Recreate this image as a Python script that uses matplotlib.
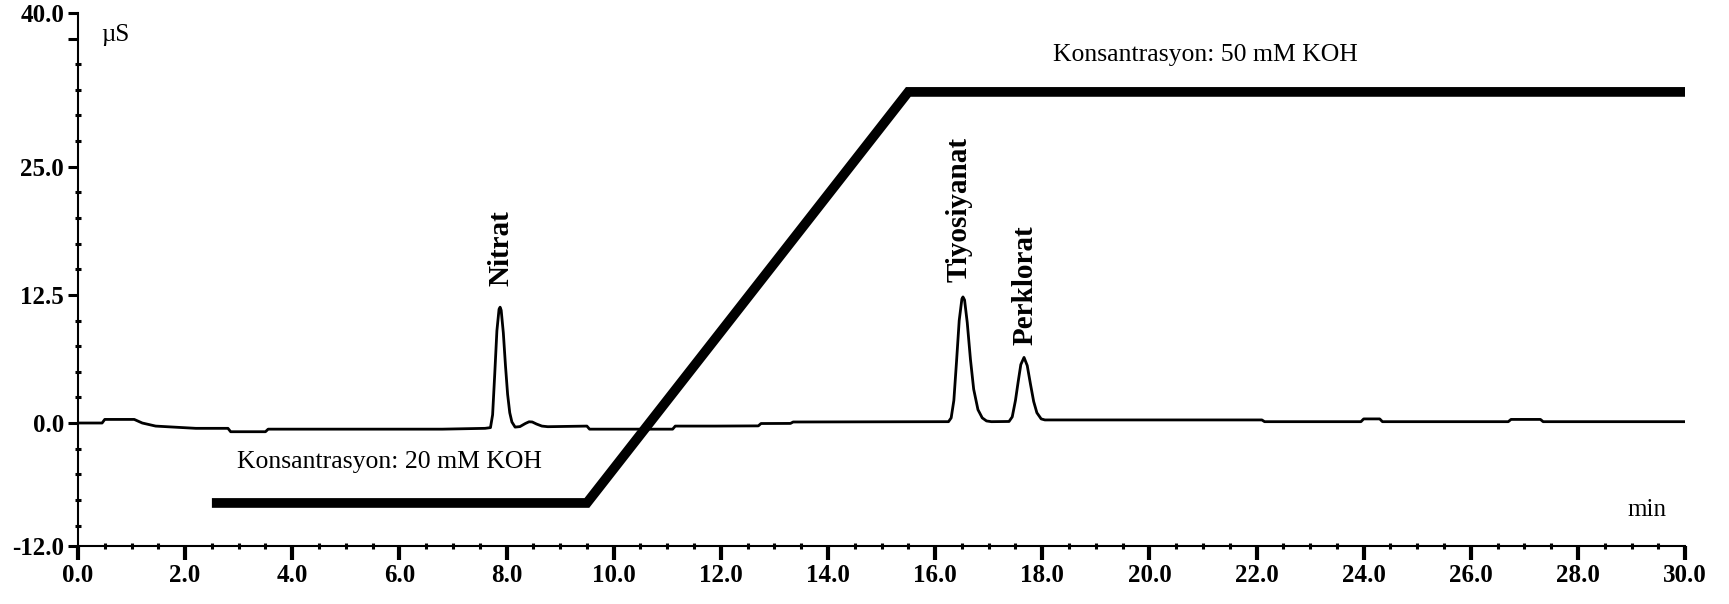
import matplotlib
matplotlib.use("Agg")
import matplotlib.pyplot as plt
from matplotlib.ticker import FixedLocator, FixedFormatter, MultipleLocator

plt.rcParams['font.family'] = ['Liberation Serif', 'DejaVu Serif']

# chromatogram (time in min, conductivity in uS)
time_min = [0.0, 0.45, 0.5, 1.05, 1.2, 1.45, 2.2, 2.8, 2.85, 3.5, 3.55, 6.8, 7.6,
            7.70, 7.74, 7.78, 7.82, 7.86, 7.88, 7.90, 7.94, 7.98, 8.02, 8.06, 8.10,
            8.16, 8.25, 8.35, 8.42, 8.48, 8.56, 8.66, 8.77, 9.5, 9.55, 11.1, 11.15,
            11.9, 12.7, 12.75, 13.3, 13.35, 16.2,
            16.25, 16.30, 16.35, 16.40, 16.45, 16.50, 16.52, 16.55, 16.60, 16.66,
            16.72, 16.80, 16.88, 16.96, 17.05,
            17.38, 17.44, 17.50, 17.55, 17.60, 17.66, 17.72, 17.78, 17.84, 17.90,
            17.98, 18.05, 22.1, 22.15, 23.95, 24.0, 24.3, 24.35, 26.7, 26.75,
            27.3, 27.35, 30.0]
signal_us = [0.0, 0.0, 0.35, 0.35, 0.0, -0.3, -0.52, -0.52, -0.85, -0.85, -0.6, -0.6, -0.52,
             -0.45, 0.8, 4.8, 9.0, 11.1, 11.3, 11.0, 8.8, 5.6, 2.8, 1.0, 0.1,
             -0.4, -0.35, -0.05, 0.12, 0.1, -0.1, -0.3, -0.36, -0.3, -0.6, -0.6, -0.3,
             -0.3, -0.28, -0.05, -0.04, 0.1, 0.13,
             0.13, 0.5, 2.2, 6.0, 10.0, 12.1, 12.3, 12.0, 9.8, 6.2,
             3.3, 1.3, 0.5, 0.2, 0.13,
             0.15, 0.6, 2.2, 4.0, 5.7, 6.4, 5.6, 3.8, 2.1, 1.0,
             0.4, 0.3, 0.3, 0.13, 0.13, 0.4, 0.4, 0.13, 0.13, 0.35,
             0.35, 0.13, 0.13]

# eluent gradient trace
grad_time = [2.5, 9.5, 15.5, 30.0]
grad_level = [-7.8, -7.8, 32.3, 32.3]

peak_names = ['Nitrat', 'Tiyosiyanat', 'Perklorat']
peak_x = [7.9, 16.45, 17.68]
peak_label_y = [13.4, 13.8, 7.6]

y_major = [40.0, 37.5, 25.0, 12.5, 0.0, -12.0]
y_major_labels = ['40.0', '', '25.0', '12.5', '0.0', '-12.0']
y_minor = [35.0, 32.5, 30.0, 27.5, 22.5, 20.0, 17.5, 15.0, 10.0, 7.5, 5.0, 2.5,
           -2.5, -5.0, -7.5, -10.0]

fig = plt.figure(figsize=(17.29, 6.04), dpi=100)
ax = fig.add_axes([0.0451, 0.0960, 0.9295, 0.8825])

ax.plot(grad_time, grad_level, color='black', lw=7, solid_capstyle='butt',
        solid_joinstyle='miter')
ax.plot(time_min, signal_us, color='black', lw=2.0)

for name, px, py in zip(peak_names, peak_x, peak_label_y):
    ax.text(px, py, name, rotation=90, ha='center', va='bottom',
            fontsize=21, fontweight='bold')

ax.text(18.2, 35.9, 'Konsantrasyon: 50 mM KOH', fontsize=18.5, ha='left', va='center')
ax.text(2.97, -3.8, 'Konsantrasyon: 20 mM KOH', fontsize=18.5, ha='left', va='center')
ax.text(0.43, 37.85, 'µS', fontsize=18, ha='left', va='center')
ax.text(28.92, -8.5, 'min', fontsize=18, ha='left', va='center')

ax.set_xlim(0, 30)
ax.set_ylim(-12, 40)

for side in ['top', 'right']:
    ax.spines[side].set_visible(False)
for side in ['left', 'bottom']:
    ax.spines[side].set_linewidth(1.5)

ax.xaxis.set_minor_locator(MultipleLocator(0.5))
ax.set_xticks([i * 2.0 for i in range(16)])
ax.set_xticklabels(['%.1f' % (i * 2.0) for i in range(16)])

ax.yaxis.set_major_locator(FixedLocator(y_major))
ax.yaxis.set_major_formatter(FixedFormatter(y_major_labels))
ax.yaxis.set_minor_locator(FixedLocator(y_minor))

ax.tick_params(axis='x', which='major', direction='out', length=10, width=3, pad=3)
ax.tick_params(axis='y', which='major', direction='out', length=7, width=2.2, pad=3)
ax.tick_params(which='minor', direction='inout', length=5, width=2.2)
for lab in ax.get_xticklabels() + ax.get_yticklabels():
    lab.set_fontsize(18)
    lab.set_fontweight('bold')

fig.savefig('out.png', dpi=100)
